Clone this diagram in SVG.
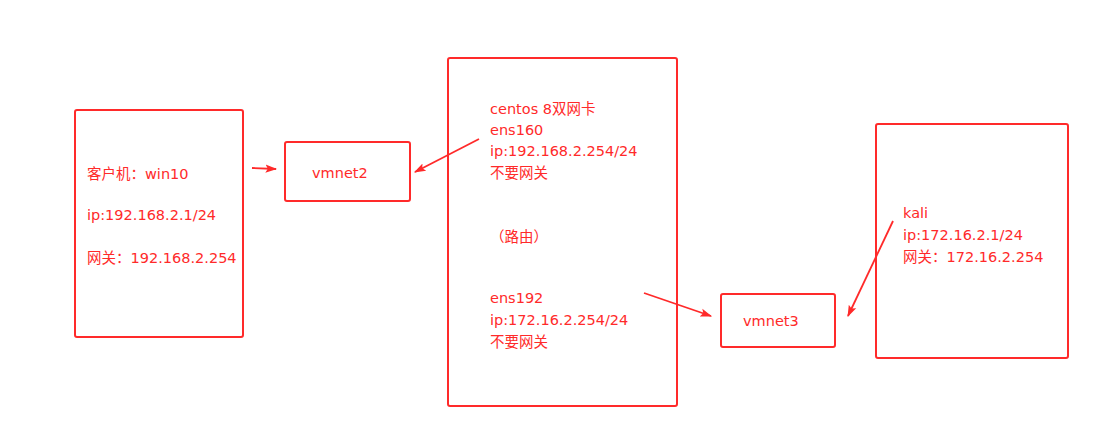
<svg xmlns="http://www.w3.org/2000/svg" width="1104" height="433" viewBox="0 0 1104 433">
<defs>
<style>
.box{fill:#fff;stroke:#ff2a2a;stroke-width:2}
.t{font-family:"DejaVu Sans","Noto Sans CJK SC",sans-serif;font-size:14.5px;fill:#ff2a2a}
.c{stroke:#ff2a2a;stroke-width:1.8;fill:none}
</style>
<marker id="ah" viewBox="0 0 10 10" refX="9" refY="5" markerWidth="6.5" markerHeight="6.5" orient="auto" markerUnits="strokeWidth">
<path d="M0,1.5 L10,5 L0,8.5 L2,5 Z" fill="#ff2a2a"/>
</marker>
</defs>
<rect width="1104" height="433" fill="#fff"/>
<g id="client">
<rect class="box" x="75" y="110" width="168" height="227" rx="2"/>
<text class="t" x="87" y="179">客户机：win10</text>
<text class="t" x="87" y="220">ip:192.168.2.1/24</text>
<text class="t" x="87" y="263">网关：192.168.2.254</text>
</g>
<g id="vmnet2">
<rect class="box" x="285" y="142" width="125" height="59" rx="2"/>
<text class="t" x="312" y="178">vmnet2</text>
</g>
<g id="centos">
<rect class="box" x="448" y="58" width="229" height="348" rx="2"/>
<text class="t" x="490" y="114">centos 8双网卡</text>
<text class="t" x="490" y="135">ens160</text>
<text class="t" x="490" y="156">ip:192.168.2.254/24</text>
<text class="t" x="490" y="178">不要网关</text>
<text class="t" x="490" y="242">（路由）</text>
<text class="t" x="490" y="303">ens192</text>
<text class="t" x="490" y="325">ip:172.16.2.254/24</text>
<text class="t" x="490" y="347">不要网关</text>
</g>
<g id="vmnet3">
<rect class="box" x="721" y="294" width="114" height="53" rx="2"/>
<text class="t" x="743" y="326">vmnet3</text>
</g>
<g id="kali">
<rect class="box" x="876" y="124" width="192" height="234" rx="2"/>
<text class="t" x="903" y="218">kali</text>
<text class="t" x="903" y="240">ip:172.16.2.1/24</text>
<text class="t" x="903" y="262">网关：172.16.2.254</text>
</g>
<g id="connectors">
<line class="c" x1="252" y1="168" x2="276" y2="169" marker-end="url(#ah)"/>
<line class="c" x1="479" y1="139" x2="415" y2="172" marker-end="url(#ah)"/>
<line class="c" x1="644" y1="293" x2="711" y2="316" marker-end="url(#ah)"/>
<line class="c" x1="893" y1="221" x2="848" y2="316" marker-end="url(#ah)"/>
</g>
</svg>
